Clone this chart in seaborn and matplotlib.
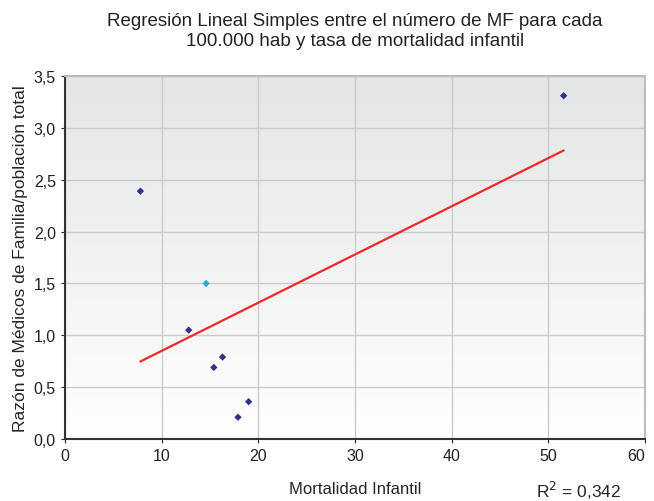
import numpy as np
import pandas as pd
import seaborn as sns
import matplotlib.pyplot as plt
from matplotlib.colors import LinearSegmentedColormap

mortalidad = [7.8, 14.6, 12.8, 16.3, 15.4, 19.0, 17.9, 51.6]
razon_mf = [2.39, 1.50, 1.05, 0.79, 0.69, 0.36, 0.21, 3.31]
grupo = ["a", "b", "a", "a", "a", "a", "a", "a"]
colores = {"a": "#2e3192", "b": "#29abe2"}
r2_texto = "R$^2$ = 0,342"

df = pd.DataFrame({"x": mortalidad, "y": razon_mf, "g": grupo})

sns.set_style("white")
plt.rcParams["font.family"] = ["Liberation Sans", "DejaVu Sans"]

fig = plt.figure(figsize=(6.54, 5.02), dpi=100)
ax = fig.add_axes([0.0994, 0.1235, 0.8866, 0.7231])

# fondo degradado blanco (abajo) -> gris claro (arriba)
fondo = LinearSegmentedColormap.from_list("fondo", ["#ffffff", "#e4e5e6"])
grad = np.linspace(0, 1, 256).reshape(-1, 1)
ax.imshow(grad, extent=[0, 60, 0, 3.5], aspect="auto", cmap=fondo,
          origin="lower", zorder=0)

sns.regplot(data=df, x="x", y="y", ax=ax, scatter=False, ci=None,
            truncate=True, line_kws=dict(color="#ee2a24", lw=1.6, zorder=3))
sns.scatterplot(data=df, x="x", y="y", hue="g", palette=colores, ax=ax,
                marker="D", s=14, linewidth=0, legend=False, zorder=4)

ax.set_xlim(0, 60)
ax.set_ylim(0, 3.5)
ax.set_xticks(range(0, 61, 10))
ax.set_yticks(np.arange(0, 3.51, 0.5))
ax.set_yticklabels([f"{v:.1f}".replace(".", ",") for v in np.arange(0, 3.51, 0.5)])
ax.grid(True, color="#cbcbcb", lw=1)
for l in ax.get_xgridlines() + ax.get_ygridlines():
    l.set_zorder(1)

for s in ["top", "right"]:
    ax.spines[s].set_color("#bdbdbd")
    ax.spines[s].set_linewidth(1.5)
for s in ["left", "bottom"]:
    ax.spines[s].set_color("#333333")
    ax.spines[s].set_linewidth(1.5)

ax.tick_params(axis="both", labelsize=11.5, length=3, direction="out",
               left=True, bottom=True, colors="#222222")
ax.get_xticklabels()[-1].set_ha("right")
ax.get_xticklabels()[-1].set_x(60)

ax.set_xlabel("Mortalidad Infantil", fontsize=12, labelpad=13)
ax.set_ylabel("Razón de Médicos de Familia/población total", fontsize=12.5)
ax.set_title("Regresión Lineal Simples entre el número de MF para cada\n"
             "100.000 hab y tasa de mortalidad infantil",
             fontsize=13.5, pad=22, linespacing=1.3, color="#222222")
fig.text(0.885, 0.008, r2_texto, fontsize=12.5, ha="center")

fig.savefig("out.png", dpi=100)
